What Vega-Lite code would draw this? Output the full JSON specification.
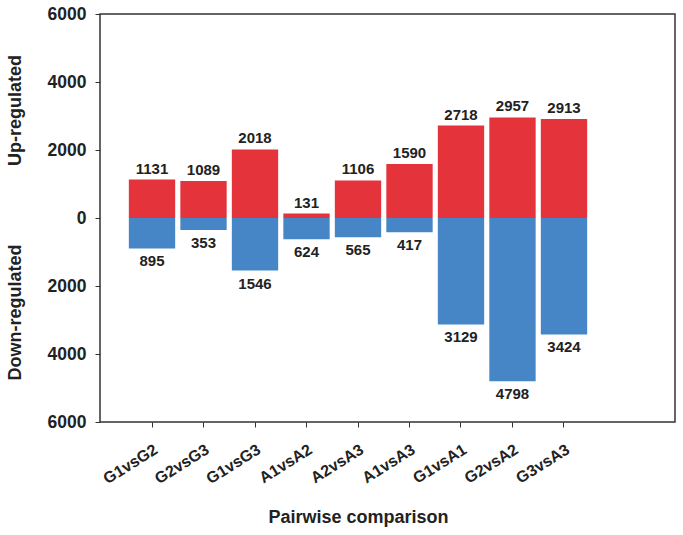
{
  "$schema": "https://vega.github.io/schema/vega-lite/v6.json",
  "width": 575,
  "height": 408,
  "autosize": {"type": "none"},
  "padding": {"left": 100, "top": 14, "right": 8, "bottom": 113},
  "background": "white",
  "config": {
    "view": {"stroke": "#333333", "strokeWidth": 1.5},
    "font": "Liberation Sans"
  },
  "data": {
    "values": [
      {"comparison": "G1vsG2", "up": 1131, "down": 895},
      {"comparison": "G2vsG3", "up": 1089, "down": 353},
      {"comparison": "G1vsG3", "up": 2018, "down": 1546},
      {"comparison": "A1vsA2", "up": 131, "down": 624},
      {"comparison": "A2vsA3", "up": 1106, "down": 565},
      {"comparison": "A1vsA3", "up": 1590, "down": 417},
      {"comparison": "G1vsA1", "up": 2718, "down": 3129},
      {"comparison": "G2vsA2", "up": 2957, "down": 4798},
      {"comparison": "G3vsA3", "up": 2913, "down": 3424}
    ]
  },
  "encoding": {
    "x": {
      "field": "comparison",
      "type": "nominal",
      "sort": null,
      "scale": {"range": [0, 516], "paddingInner": 0.1, "paddingOuter": 0.56},
      "axis": {
        "title": "Pairwise comparison",
        "titleFont": "Liberation Sans",
        "titleFontSize": 18,
        "titleFontWeight": "bold",
        "titleColor": "#222222",
        "titlePadding": 22,
        "labelAngle": -32,
        "labelAlign": "right",
        "labelBaseline": "top",
        "labelPadding": 14,
        "labelFont": "Liberation Sans",
        "labelFontSize": 16,
        "labelFontWeight": "bold",
        "labelColor": "#222222",
        "tickSize": 5,
        "tickColor": "#333333",
        "domain": false,
        "grid": false
      }
    }
  },
  "layer": [
    {
      "layer": [
        {
          "mark": {"type": "bar", "color": "#e5333b"},
          "encoding": {
            "y": {
              "field": "up",
              "type": "quantitative",
              "scale": {"domain": [-6000, 6000], "nice": false},
              "axis": {
                "values": [-6000, -4000, -2000, 0, 2000, 4000, 6000],
                "labelExpr": "format(abs(datum.value), 'd')",
                "title": "Up-regulated",
                "titleX": -85,
                "titleY": 96,
                "titleAngle": 270,
                "titleAlign": "center",
                "titleBaseline": "middle",
                "titleFont": "Liberation Sans",
                "titleFontSize": 18,
                "titleFontWeight": "bold",
                "titleColor": "#222222",
                "labelFont": "Liberation Sans",
                "labelFontSize": 17.5,
                "labelFontWeight": "bold",
                "labelColor": "#222222",
                "labelPadding": 9,
                "tickSize": 5,
                "tickColor": "#333333",
                "domain": false,
                "grid": false
              }
            }
          }
        },
        {
          "mark": {"type": "text", "baseline": "bottom", "dy": -3, "fontSize": 15, "fontWeight": "bold", "color": "#222222", "font": "Liberation Sans"},
          "encoding": {
            "y": {"field": "up", "type": "quantitative"},
            "text": {"field": "up", "type": "quantitative", "format": "d"}
          }
        },
        {
          "mark": {"type": "rule", "color": "#333333", "strokeWidth": 1.2},
          "encoding": {"y": {"datum": 0}}
        }
      ]
    },
    {
      "layer": [
        {
          "mark": {"type": "bar", "color": "#4786c6"},
          "encoding": {
            "y": {
              "field": "down",
              "type": "quantitative",
              "scale": {"domain": [-6000, 6000], "nice": false, "reverse": true},
              "axis": {
                "orient": "right",
                "labels": false,
                "ticks": false,
                "domain": false,
                "grid": false,
                "title": "Down-regulated",
                "titleX": -660,
                "titleY": 298,
                "titleAngle": 270,
                "titleAlign": "center",
                "titleBaseline": "middle",
                "titleFont": "Liberation Sans",
                "titleFontSize": 18,
                "titleFontWeight": "bold",
                "titleColor": "#222222"
              }
            }
          }
        },
        {
          "mark": {"type": "text", "baseline": "top", "dy": 6, "fontSize": 15, "fontWeight": "bold", "color": "#222222", "font": "Liberation Sans"},
          "encoding": {
            "y": {"field": "down", "type": "quantitative"},
            "text": {"field": "down", "type": "quantitative", "format": "d"}
          }
        }
      ]
    }
  ],
  "resolve": {"scale": {"y": "independent"}, "axis": {"y": "independent"}}
}
